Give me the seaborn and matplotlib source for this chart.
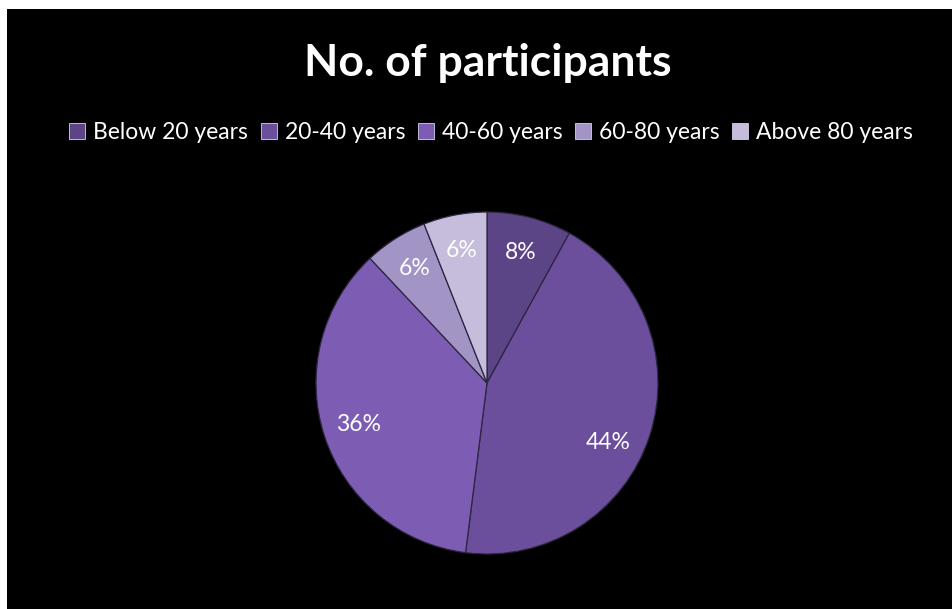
import matplotlib
matplotlib.use("Agg")
import matplotlib.pyplot as plt
from matplotlib.patches import Rectangle, Patch
import numpy as np
import seaborn as sns

# Age-group shares of participants (percent)
age_groups = ["Below 20 years", "20-40 years", "40-60 years", "60-80 years", "Above 80 years"]
shares = [8, 44, 36, 6, 6]
slice_colors = ["#5b4586", "#6b4f9d", "#7c5db3", "#a394c6", "#c6bcdc"]

sns.set_theme(style="white")
plt.rcParams["font.family"] = ["Lato", "DejaVu Sans"]

fig = plt.figure(figsize=(9.52, 6.09), dpi=100)
fig.patch.set_facecolor("white")
# black chart area with a thin white margin on the left and top
fig.patches.append(Rectangle((7 / 952, 0), 1 - 7 / 952, 1 - 9 / 609,
                             transform=fig.transFigure, facecolor="black",
                             edgecolor="none", zorder=-10))

ax = fig.add_axes([316 / 952, 55 / 609, 342 / 952, 342 / 609])
ax.set_facecolor("none")
ax.set_zorder(5)

wedges, texts, autotexts = ax.pie(
    shares,
    colors=slice_colors,
    startangle=90,
    counterclock=False,
    autopct=lambda p: f"{p:.0f}%",
    pctdistance=0.79,
    radius=1.0,
    wedgeprops=dict(edgecolor="#2e2540", linewidth=0.9),
    textprops=dict(color="white", fontsize=16.5),
)
ax.set_xlim(-1.0, 1.0)
ax.set_ylim(-1.0, 1.0)
ax.set_aspect("equal")
ax.axis("off")

# nudge the large slice's label a little down along its arc
x, y = autotexts[1].get_position()
r = np.hypot(x, y)
a = np.arctan2(y, x) - np.deg2rad(8)
autotexts[1].set_position((r * np.cos(a), r * np.sin(a)))

fig.text(0.512, 0.897, "No. of participants", ha="center", va="center",
         color="white", fontsize=32, fontweight="bold")

handles = [Patch(facecolor=c, edgecolor="#d8d0ea", linewidth=0.6) for c in slice_colors]
leg = fig.legend(handles, age_groups, loc="center", bbox_to_anchor=(0.516, 0.783),
                 ncol=5, frameon=False, fontsize=16.5, handlelength=0.7,
                 handleheight=0.7, handletextpad=0.35, columnspacing=0.55,
                 labelcolor="white")

fig.savefig("out.png", dpi=100, facecolor=fig.get_facecolor())
